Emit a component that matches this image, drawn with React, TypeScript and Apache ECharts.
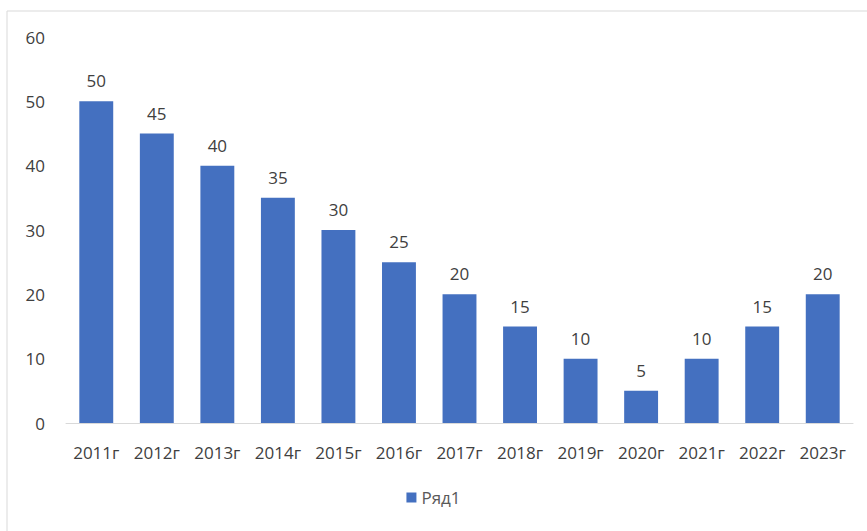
import React, { useEffect, useRef } from "react";
import * as echarts from "echarts";

const categories = ["2011г", "2012г", "2013г", "2014г", "2015г", "2016г", "2017г", "2018г", "2019г", "2020г", "2021г", "2022г", "2023г"];
const values = [50, 45, 40, 35, 30, 25, 20, 15, 10, 5, 10, 15, 20];
const seriesName = "Ряд1";

export default function App() {
  const ref = useRef<HTMLDivElement>(null);
  useEffect(() => {
    const chart = echarts.init(ref.current!, null, { renderer: "svg" });
    const font = "'Open Sans', 'Noto Sans', sans-serif";
    chart.setOption({
      animation: false,
      backgroundColor: "#ffffff",
      textStyle: { fontFamily: font },
      graphic: [
        {
          type: "rect",
          shape: { x: 7, y: 11, width: 880, height: 540 },
          style: { fill: "none", stroke: "#d9d9d9", lineWidth: 1 },
          silent: true,
        },
      ],
      grid: { left: 66, right: 14, top: 37, bottom: 108 },
      legend: {
        bottom: 20,
        left: "center",
        itemWidth: 10,
        itemHeight: 10,
        icon: "rect",
        itemGap: 10,
        textStyle: { fontSize: 17, color: "#595959", fontFamily: font },
        data: [seriesName],
      },
      xAxis: {
        type: "category",
        data: categories,
        axisLine: { lineStyle: { color: "#d9d9d9", width: 1 } },
        axisTick: { show: false },
        axisLabel: { fontSize: 17, color: "#404040", margin: 21, interval: 0, fontFamily: font },
      },
      yAxis: {
        type: "value",
        min: 0,
        max: 60,
        interval: 10,
        splitLine: { show: false },
        axisLine: { show: false },
        axisTick: { show: false },
        axisLabel: { fontSize: 17, color: "#404040", margin: 21, fontFamily: font },
      },
      series: [
        {
          name: seriesName,
          type: "bar",
          data: values,
          barCategoryGap: "44%",
          itemStyle: { color: "#4470c0" },
          label: {
            show: true,
            position: "top",
            distance: 12,
            fontSize: 17,
            color: "#404040",
            fontFamily: font,
          },
        },
      ],
    });
    return () => chart.dispose();
  }, []);
  return <div ref={ref} style={{ position: "fixed", left: 0, top: 0, width: 867, height: 531 }} />;
}
